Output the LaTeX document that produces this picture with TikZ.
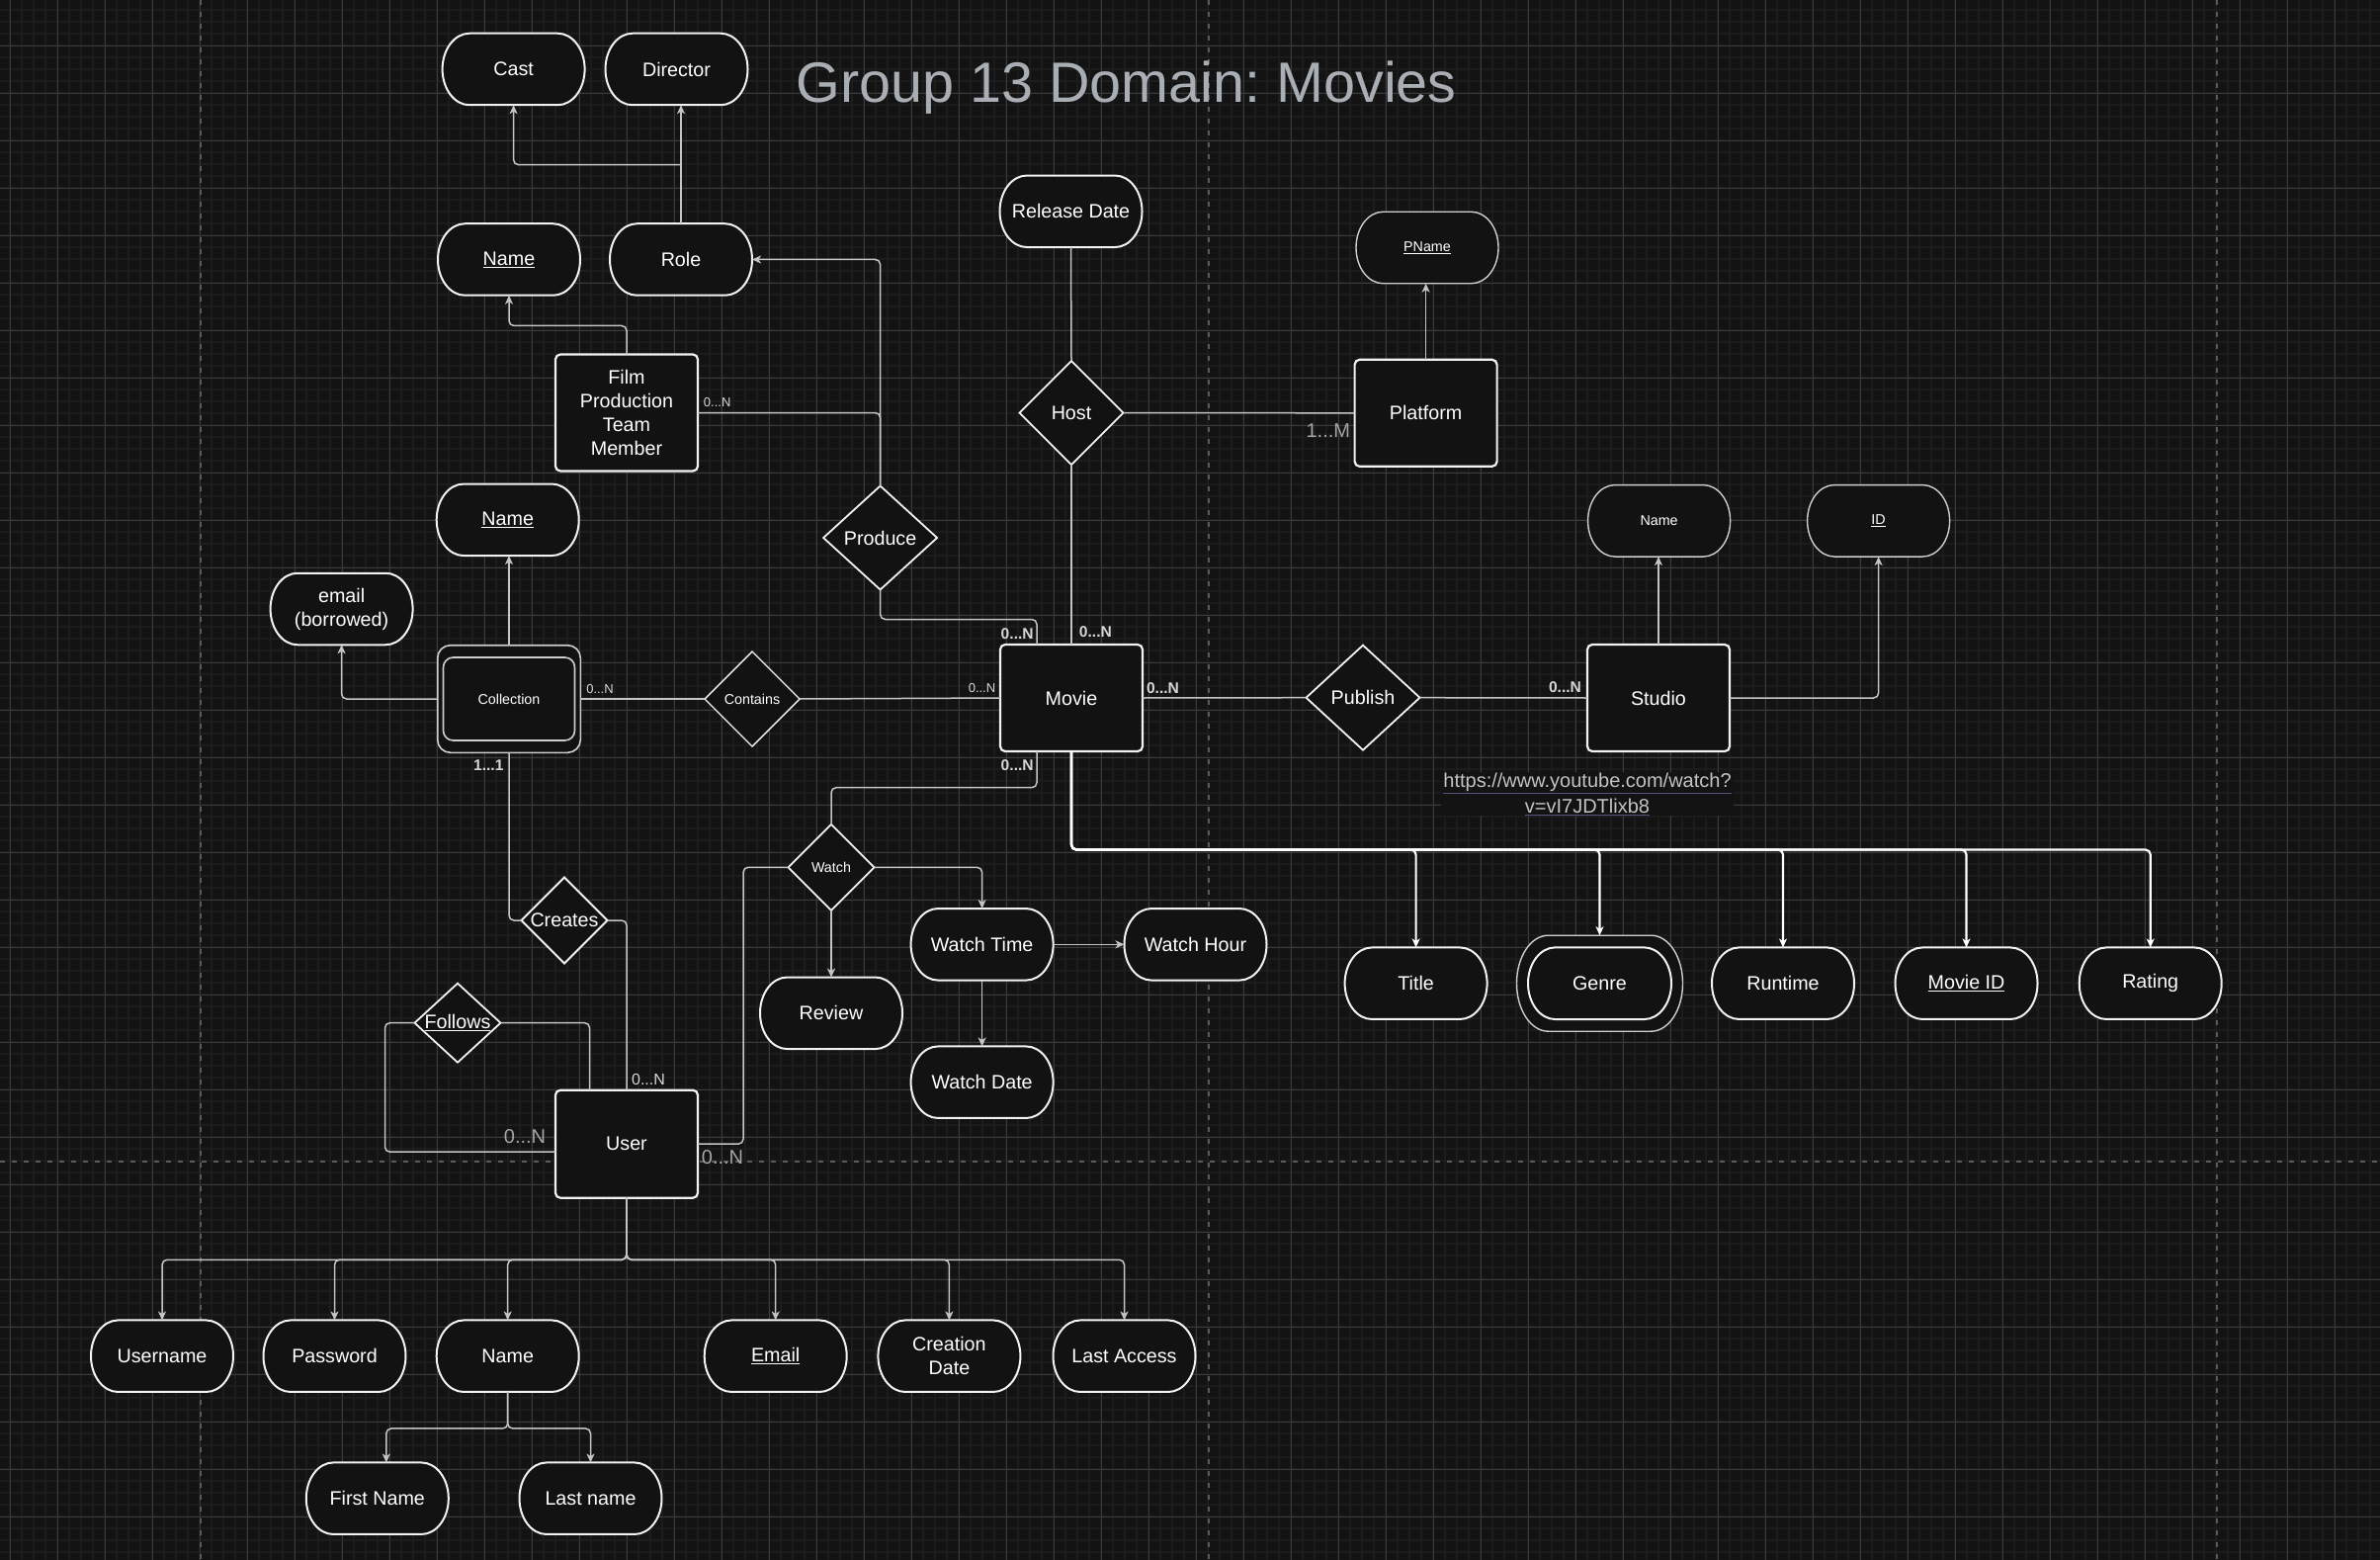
\documentclass[tikz,border=0pt]{standalone}
\usepackage{fontspec}
\setmainfont{Liberation Sans}
\usetikzlibrary{shapes.geometric,arrows.meta,calc}
\frenchspacing

\definecolor{bgc}{HTML}{131313}
\definecolor{gridmin}{HTML}{1C1C1C}
\definecolor{gridmaj}{HTML}{3B3B3B}
\definecolor{pagebrk}{HTML}{5A5A5A}
\definecolor{nfill}{HTML}{121212}
\definecolor{edgec}{HTML}{C4C4C4}
\definecolor{bordc}{HTML}{F2F2F2}
\definecolor{titlec}{HTML}{A9AEB4}
\definecolor{cardc}{HTML}{D6D6D6}
\definecolor{cardgray}{HTML}{A6A6A6}
\definecolor{urlc}{HTML}{C3C3C3}
\definecolor{urlline}{HTML}{5E5078}

\newcommand\fMain{\fontsize{19.7pt}{23.8pt}\selectfont}
\newcommand\fSmall{\fontsize{14.3pt}{17pt}\selectfont}
\newcommand\fCard{\fontsize{15.6pt}{18pt}\selectfont\bfseries}
\newcommand\fCardS{\fontsize{13pt}{15pt}\selectfont}
\newcommand\fCardM{\fontsize{16pt}{18pt}\selectfont}
\newcommand\fCardB{\fontsize{20pt}{24pt}\selectfont}
\newcommand\fTitle{\fontsize{57.5pt}{69pt}\selectfont}
\newcommand\fUrl{\fontsize{20pt}{26pt}\selectfont}

\makeatletter
\newdimen\stXa \newdimen\stYa \newdimen\stXb \newdimen\stYb
\newdimen\stRx \newdimen\stRy \newdimen\stXc \newdimen\stXd
\newdimen\stKx \newdimen\stKy \newdimen\stYm \newdimen\stP
\newdimen\stQ \newdimen\stU \newdimen\stV
\pgfdeclareshape{stadium}{%
  \inheritsavedanchors[from=rectangle]%
  \inheritanchorborder[from=rectangle]%
  \inheritanchor[from=rectangle]{center}%
  \inheritanchor[from=rectangle]{north}%
  \inheritanchor[from=rectangle]{south}%
  \inheritanchor[from=rectangle]{east}%
  \inheritanchor[from=rectangle]{west}%
  \inheritanchor[from=rectangle]{north east}%
  \inheritanchor[from=rectangle]{north west}%
  \inheritanchor[from=rectangle]{south east}%
  \inheritanchor[from=rectangle]{south west}%
  \inheritanchor[from=rectangle]{text}%
  \inheritanchor[from=rectangle]{base}%
  \inheritanchor[from=rectangle]{mid}%
  \backgroundpath{%
    \southwest \stXa=\pgf@x \stYa=\pgf@y
    \northeast \stXb=\pgf@x \stYb=\pgf@y
    \stRy=\stYb \advance\stRy by -\stYa \stRy=0.5\stRy
    \stRx=\stXb \advance\stRx by -\stXa \stRx=0.19\stRx
    \stXc=\stXa \advance\stXc by \stRx
    \stXd=\stXb \advance\stXd by -\stRx
    \stKx=0.5523\stRx \stKy=0.5523\stRy
    \stP=\stXd \advance\stP by \stKx
    \stQ=\stXc \advance\stQ by -\stKx
    \stYm=\stYa \advance\stYm by \stRy
    \stU=\stYm \advance\stU by \stKy
    \stV=\stYm \advance\stV by -\stKy
    \pgfpathmoveto{\pgfqpoint{\stXc}{\stYb}}%
    \pgfpathlineto{\pgfqpoint{\stXd}{\stYb}}%
    \pgfpathcurveto{\pgfqpoint{\stP}{\stYb}}{\pgfqpoint{\stXb}{\stU}}{\pgfqpoint{\stXb}{\stYm}}%
    \pgfpathcurveto{\pgfqpoint{\stXb}{\stV}}{\pgfqpoint{\stP}{\stYa}}{\pgfqpoint{\stXd}{\stYa}}%
    \pgfpathlineto{\pgfqpoint{\stXc}{\stYa}}%
    \pgfpathcurveto{\pgfqpoint{\stQ}{\stYa}}{\pgfqpoint{\stXa}{\stV}}{\pgfqpoint{\stXa}{\stYm}}%
    \pgfpathcurveto{\pgfqpoint{\stXa}{\stU}}{\pgfqpoint{\stQ}{\stYb}}{\pgfqpoint{\stXc}{\stYb}}%
    \pgfpathclose
  }%
}
\makeatother

\tikzset{
  attr/.style={shape=stadium, draw=bordc, line width=2pt, fill=nfill,
    minimum width=144pt, minimum height=72.5pt, inner sep=0pt, outer sep=0pt,
    text=white, font=\fMain, align=center},
  attrs/.style={attr, font=\fSmall, line width=1.4pt, draw=bordc!85!black},
  entity/.style={rectangle, rounded corners=5pt, draw=bordc, line width=2.2pt, fill=nfill,
    minimum width=144pt, minimum height=108pt, inner sep=0pt, outer sep=0pt,
    text=white, font=\fMain, align=center},
  rel/.style={diamond, draw=bordc, line width=1.8pt, fill=nfill, inner sep=0pt, outer sep=0pt},
  dlab/.style={text=white, font=\fMain, inner sep=0pt},
  dlabs/.style={text=white, font=\fSmall, inner sep=0pt},
  edge/.style={draw=edgec, line width=1.5pt, rounded corners=5pt},
  busedge/.style={draw=white, line width=2.2pt, rounded corners=5pt},
  arr/.style={-{Stealth[length=9pt,width=8pt,inset=2.5pt]}},
  card/.style={text=cardc, font=\fCard, inner sep=0pt},
  cards/.style={text=cardc, font=\fCardS, inner sep=0pt},
  cardm/.style={text=cardc, font=\fCardM, inner sep=0pt},
  cardb/.style={text=cardgray, font=\fCardB, inner sep=0pt},
  pagebreak/.style={draw=pagebrk, line width=2pt, dash pattern=on 5pt off 7pt},
}

\begin{document}
\begin{tikzpicture}[x=1pt,y=-1pt]
\useasboundingbox (0,0) rectangle (2408,1578);
% background and grid
\fill[bgc] (0,0) rectangle (2408,1578);
\foreach \i in {0,...,200} \draw[gridmin,line width=2.2pt] ({10.3+12*\i},0) -- ({10.3+12*\i},1578);
\foreach \j in {0,...,131} \draw[gridmin,line width=2.2pt] (0,{10.3+12*\j}) -- (2408,{10.3+12*\j});
\foreach \i in {0,...,50} \draw[gridmaj,line width=1pt] ({10.3+48*\i},0) -- ({10.3+48*\i},1578);
\foreach \j in {0,...,32} \draw[gridmaj,line width=1pt] (0,{46.3+48*\j}) -- (2408,{46.3+48*\j});
\draw[pagebreak] (202.7,0) -- (202.7,1578);
\draw[pagebreak] (1222.6,0) -- (1222.6,1578);
\draw[pagebreak] (2242.7,0) -- (2242.7,1578);
\draw[pagebreak] (0,1174.7) -- (2408,1174.7);

% title
\node[anchor=base west, inner sep=0pt, text=titlec, font=\fTitle] (heading) at (805.5,103.3) {Group 13 Domain: Movies};

% attributes (top left)
\node[attr] (cast) at (519.6,70) {Cast};
\node[attr] (director) at (684.5,70) {Director};
\node[attr] (nameF) at (515,262.5) {\underline{Name}};
\node[attr] (role) at (689,262.5) {Role};
\node[entity, minimum height=118pt] (fptm) at (634,417.5) {Film\\Production\\Team\\Member};
\node[attr] (reldate) at (1083.5,213.8) {Release Date};
\node[attrs] (pname) at (1444,250.5) {\underline{PName}};
\node[rel, minimum width=105pt, minimum height=105pt] (host) at (1084,417.6) {};
\node[dlab] (hostl) at (host.center) {Host};
\node[entity] (platform) at (1442.6,417.8) {Platform};
\node[rel, minimum width=115pt, minimum height=105pt] (produce) at (890.6,544) {};
\node[dlab] (producel) at (produce.center) {Produce};
\node[attr] (nameC) at (513.7,525.8) {\underline{Name}};
\node[attr] (email) at (345.6,616) {email\\(borrowed)};
\node[attrs] (studioname) at (1678.6,526.8) {Name};
\node[attrs] (sid) at (1900.6,526.8) {\underline{ID}};

% middle row
\node[rectangle, rounded corners=13pt, draw=bordc!85!black, line width=1.6pt, fill=nfill,
  minimum width=144.6pt, minimum height=108.6pt, inner sep=0pt, outer sep=0pt] (collection) at (515,707) {};
\node[rectangle, rounded corners=10pt, draw=bordc!85!black, line width=1.6pt, fill=nfill,
  minimum width=133pt, minimum height=84pt, inner sep=0pt, outer sep=0pt, text=white, font=\fSmall] (collin) at (515,707) {Collection};
\node[rel, line width=1.4pt, minimum width=96pt, minimum height=96pt] (contains) at (761,707) {};
\node[dlabs] (containsl) at (contains.center) {Contains};
\node[entity] (movie) at (1084,706) {Movie};
\node[rel, minimum width=115pt, minimum height=106pt] (publish) at (1379,705.7) {};
\node[dlab] (publishl) at (publish.center) {Publish};
\node[entity] (studio) at (1678,706) {Studio};
\node[fill=bgc, inner xsep=2pt, inner ysep=1pt, text=urlc, font=\fUrl, align=center] (url) at (1606,803)
  {{\color{urlline}\underline{\color{urlc}https://www.youtube.com/watch?}}\\{\color{urlline}\underline{\color{urlc}v=vI7JDTlixb8}}};

% watch cluster
\node[rel, minimum width=87pt, minimum height=87pt] (watch) at (841,877.3) {};
\node[dlabs] (watchl) at (watch.center) {Watch};
\node[attr] (review) at (841,1024.8) {Review};
\node[attr] (wtime) at (993.6,955.3) {Watch Time};
\node[attr] (whour) at (1209.5,955.3) {Watch Hour};
\node[attr] (wdate) at (993.6,1094.7) {Watch Date};
\node[rel, minimum width=87pt, minimum height=87pt] (creates) at (571,931) {};
\node[dlab] (createsl) at (creates.center) {Creates};
\node[rel, minimum width=87pt, minimum height=80pt] (follows) at (463,1034.7) {};
\node[dlab] (followsl) at (follows.center) {\underline{Follows}};

% movie attributes
\node[attr] (title) at (1432.6,994.7) {Title};
\node[attr, minimum width=168pt, minimum height=97pt, line width=1.4pt, draw=bordc!85!black] (genreo) at (1618.5,994.7) {};
\node[attr, minimum width=145pt, minimum height=72.7pt] (genre) at (1618.5,994.7) {Genre};
\node[attr] (runtime) at (1804,994.7) {Runtime};
\node[attr] (movieid) at (1989.5,994.7) {\underline{Movie ID}};
\node[attr] (rating) at (2175.7,994.7) {Rating};

% user
\node[entity, minimum height=109pt] (user) at (634,1157.2) {User};
\node[attr] (username) at (164,1371.7) {Username};
\node[attr] (password) at (338.5,1371.7) {Password};
\node[attr] (nameU) at (513.7,1371.7) {Name};
\node[attr] (email2) at (784.7,1371.7) {\underline{Email}};
\node[attr] (cdate) at (960.4,1371.7) {Creation\\Date};
\node[attr] (laccess) at (1137.5,1371.7) {Last Access};
\node[attr] (fname) at (381.8,1515.7) {First Name};
\node[attr] (lname) at (597.5,1515.7) {Last name};

% connectors
\coordinate (rolej) at (689,166.7);
\draw[edge,arr] (role.north) -- (role.north |- director.south);
\draw[edge,arr] (rolej) -| (cast.south);
\draw[edge,arr] (fptm.north) -- ++(0,-29) -| (nameF.south);
\draw[edge,arr] (produce.north) |- (role.east);
\draw[edge] (fptm.east) -| (produce.north);
\draw[edge] (reldate.south) -- (host.north);
\draw[edge] (host.south) -- (movie.north);
\draw[edge] (host.east) -- (platform.west);
\draw[edge,arr] (platform.north) -- (platform.north |- pname.south);
\draw[edge] (produce.south) -- ++(0,30) -| ([xshift=37pt]movie.north west);
\draw[edge,arr] (collection.north) -- (collection.north |- nameC.south);
\draw[edge,arr] (collection.west) -| (email.south);
\draw[edge] (collection.east) -- (contains.west);
\draw[edge] (contains.east) -- (movie.west);
\draw[edge] (movie.east) -- (publish.west);
\draw[edge] (publish.east) -- (studio.west);
\draw[edge,arr] (studio.north) -- (studio.north |- studioname.south);
\draw[edge,arr] (studio.east) -| (sid.south);
\foreach \t in {title,genreo,runtime,movieid,rating}
  \draw[busedge,arr] (movie.south) -- ++(0,99.5) -| (\t.north);
\draw[edge] ([xshift=37pt]movie.south west) -- ++(0,36.7) -| (watch.north);
\draw[edge,arr] (watch.south) -- (review.north);
\draw[edge,arr] (watch.east) -| (wtime.north);
\draw[edge,arr] (wtime.east) -- (whour.west);
\draw[edge,arr] (wtime.south) -- (wdate.north);
\draw[edge] (user.east) -- ++(46,0) |- (watch.west);
\draw[edge] (collection.south) |- (creates.west);
\draw[edge] (creates.east) -| (user.north);
\draw[edge] ([xshift=34.6pt]user.north west) |- (follows.east);
\draw[edge] (follows.west) -- ++(-30,0) |- ([yshift=-8pt]user.west);
\foreach \t in {username,password,nameU,email2,cdate,laccess}
  \draw[edge,arr] (user.south) -- ++(0,62.6) -| (\t.north);
\draw[edge,arr] (nameU.south) -- ++(0,37) -| ([xshift=9pt]fname.north);
\draw[edge,arr] (nameU.south) -- ++(0,37) -| (lname.north);

% cardinalities
\node[cards] (c1) at (725.7,407.3) {0...N};
\node[card] (c2) at (1029.2,641) {0...N};
\node[card] (c3) at (1108.4,638.7) {0...N};
\node[cardb] (c4) at (1343.8,435.2) {1...M};
\node[cards] (c5) at (607,697.3) {0...N};
\node[cards] (c6) at (993.5,695.7) {0...N};
\node[card] (c7) at (1176.5,695.7) {0...N};
\node[card] (c8) at (1583.5,695) {0...N};
\node[card] (c9) at (1029.2,774.3) {0...N};
\node[card] (c10) at (494.3,774) {1...1};
\node[cardm] (c11) at (656,1092.3) {0...N};
\node[cardb] (c12) at (531,1150) {0...N};
\node[cardb] (c13) at (731,1170.7) {0...N};
\end{tikzpicture}
\end{document}
